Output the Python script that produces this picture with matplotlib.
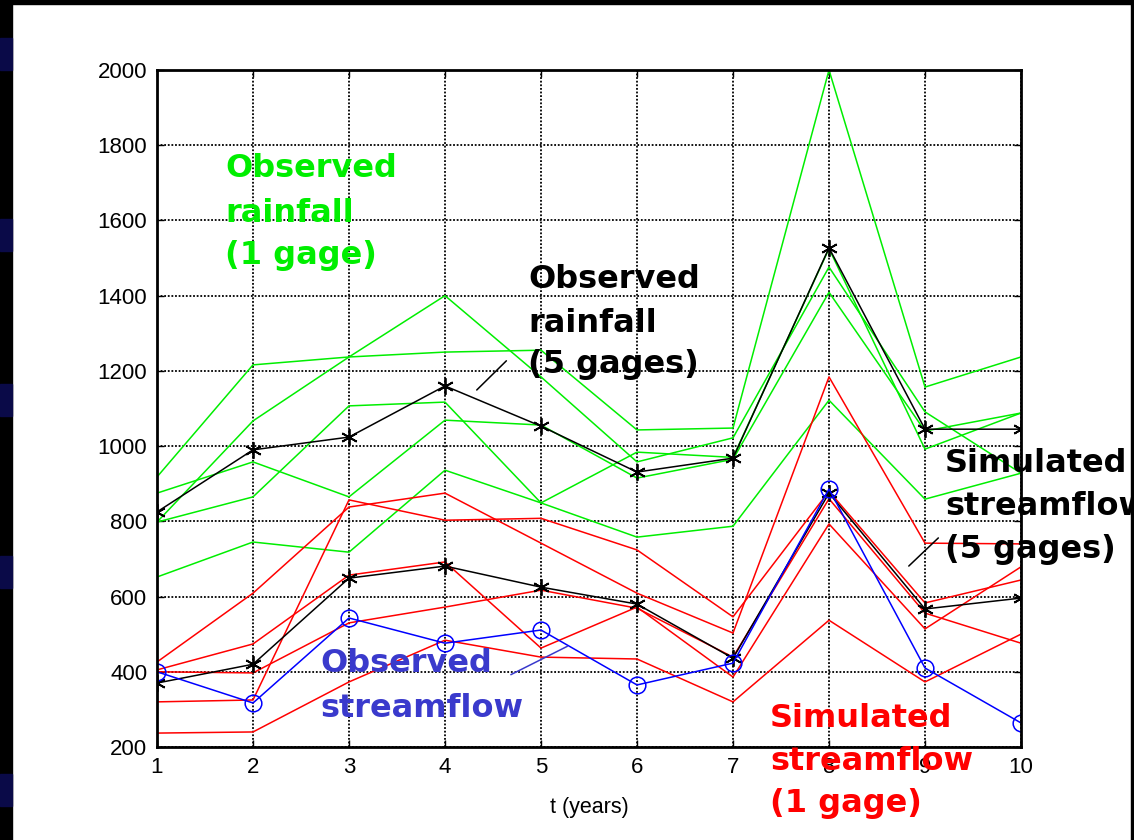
import numpy as np
import matplotlib
matplotlib.use("Agg")
import matplotlib.pyplot as plt
from matplotlib.patches import Rectangle

W, H = 1134, 840

t = np.arange(1, 11)

# observed rainfall, single gage (green)
rain_1gage = [
    [918, 1216, 1237, 1250, 1255, 1043, 1048, 2000, 1157, 1237],
    [798, 1067, 1237, 1400, 1184, 958, 1022, 1476, 1091, 928],
    [875, 958, 865, 1069, 1056, 915, 965, 1409, 1040, 1088],
    [798, 865, 1107, 1117, 849, 984, 970, 1525, 992, 1088],
    [652, 745, 718, 936, 849, 758, 787, 1122, 859, 928],
]
# simulated streamflow, single gage (red)
flow_1gage = [
    [426, 609, 838, 875, 742, 609, 503, 1184, 742, 740],
    [320, 325, 857, 803, 808, 724, 546, 880, 583, 644],
    [405, 474, 657, 692, 463, 572, 386, 793, 514, 679],
    [400, 397, 530, 572, 617, 569, 439, 860, 556, 476],
    [237, 240, 373, 484, 439, 434, 320, 537, 373, 500],
]
rain_5gages = [825, 990, 1024, 1160, 1053, 931, 968, 1527, 1045, 1045]
flow_5gages = [370, 420, 649, 681, 625, 580, 436, 875, 567, 596]
flow_obs = [400, 317, 543, 476, 511, 365, 423, 886, 410, 264]

GREEN = '#00ee00'
BLUE_TXT = '#3a3acc'
ASTERISK = (6, 2, 0)

fig = plt.figure(figsize=(W / 100, H / 100), dpi=100, facecolor='white')

# slide frame bits
fig.patches.append(Rectangle((0, 0), 12 / W, 1, transform=fig.transFigure, color='black', zorder=0))
fig.patches.append(Rectangle((0, 1 - 4 / H), 1, 4 / H, transform=fig.transFigure, color='black', zorder=0))
fig.patches.append(Rectangle((1 - 3 / W, 0), 3 / W, 1, transform=fig.transFigure, color='black', zorder=0))
for yb in [32, 213, 378, 550, 768]:
    fig.patches.append(Rectangle((0, 1 - (yb + 38) / H), 12 / W, 32 / H,
                                 transform=fig.transFigure, color='#0a0a48', zorder=1))

ax = fig.add_axes([157 / W, 1 - 747 / H, (1021 - 157) / W, (747 - 70) / H])

for row in rain_1gage:
    ax.plot(t, row, color=GREEN, lw=1.1)
for row in flow_1gage:
    ax.plot(t, row, color='red', lw=1.1)
ax.plot(t, rain_5gages, color='black', lw=1.1, marker=ASTERISK, ms=12, mew=1.3)
ax.plot(t, flow_5gages, color='black', lw=1.1, marker=ASTERISK, ms=12, mew=1.3)
ax.plot(t, flow_obs, color='blue', lw=1.1, marker='o', ms=12, mfc='none', mew=1.1)

ax.set_xlim(1, 10)
ax.set_ylim(200, 2000)
ax.set_xticks(t)
ax.set_yticks(np.arange(200, 2001, 200))
ax.grid(True, color='black', linestyle=(0, (1, 1)), linewidth=1.3)
for s in ax.spines.values():
    s.set_linewidth(2)
ax.tick_params(direction='in', top=True, right=True, length=5, width=1,
               labelsize=16, pad=7)
for lab in ax.get_xticklabels() + ax.get_yticklabels():
    lab.set_family('Liberation Sans')
ax.set_xlabel('t (years)', fontsize=15.5, family='Liberation Sans', labelpad=14)

# leader lines
ax.annotate('', xy=(4.31, 1144), xytext=(4.66, 1232),
            arrowprops=dict(arrowstyle='-', color='black', lw=1.1))
ax.annotate('', xy=(8.81, 676), xytext=(9.16, 761),
            arrowprops=dict(arrowstyle='-', color='black', lw=1.1))
ax.annotate('', xy=(4.66, 389), xytext=(5.30, 471),
            arrowprops=dict(arrowstyle='-', color=BLUE_TXT, lw=1.1))


def label(x, baselines, lines, color):
    for yb, txt in zip(baselines, lines):
        fig.text(x / W, 1 - yb / H, txt, color=color, fontsize=23,
                 fontweight='bold', family='DejaVu Sans', va='baseline', ha='left')


label(225, [177, 222, 264], ['Observed', 'rainfall', '(1 gage)'], GREEN)
label(528, [288, 332, 373], ['Observed', 'rainfall', '(5 gages)'], 'black')
label(945, [472, 515, 558], ['Simulated', 'streamflow', '(5 gages)'], 'black')
label(320, [672, 717], ['Observed', 'streamflow'], BLUE_TXT)
label(770, [727, 770, 812], ['Simulated', 'streamflow', '(1 gage)'], 'red')

fig.savefig('out.png', dpi=100, facecolor=fig.get_facecolor())
